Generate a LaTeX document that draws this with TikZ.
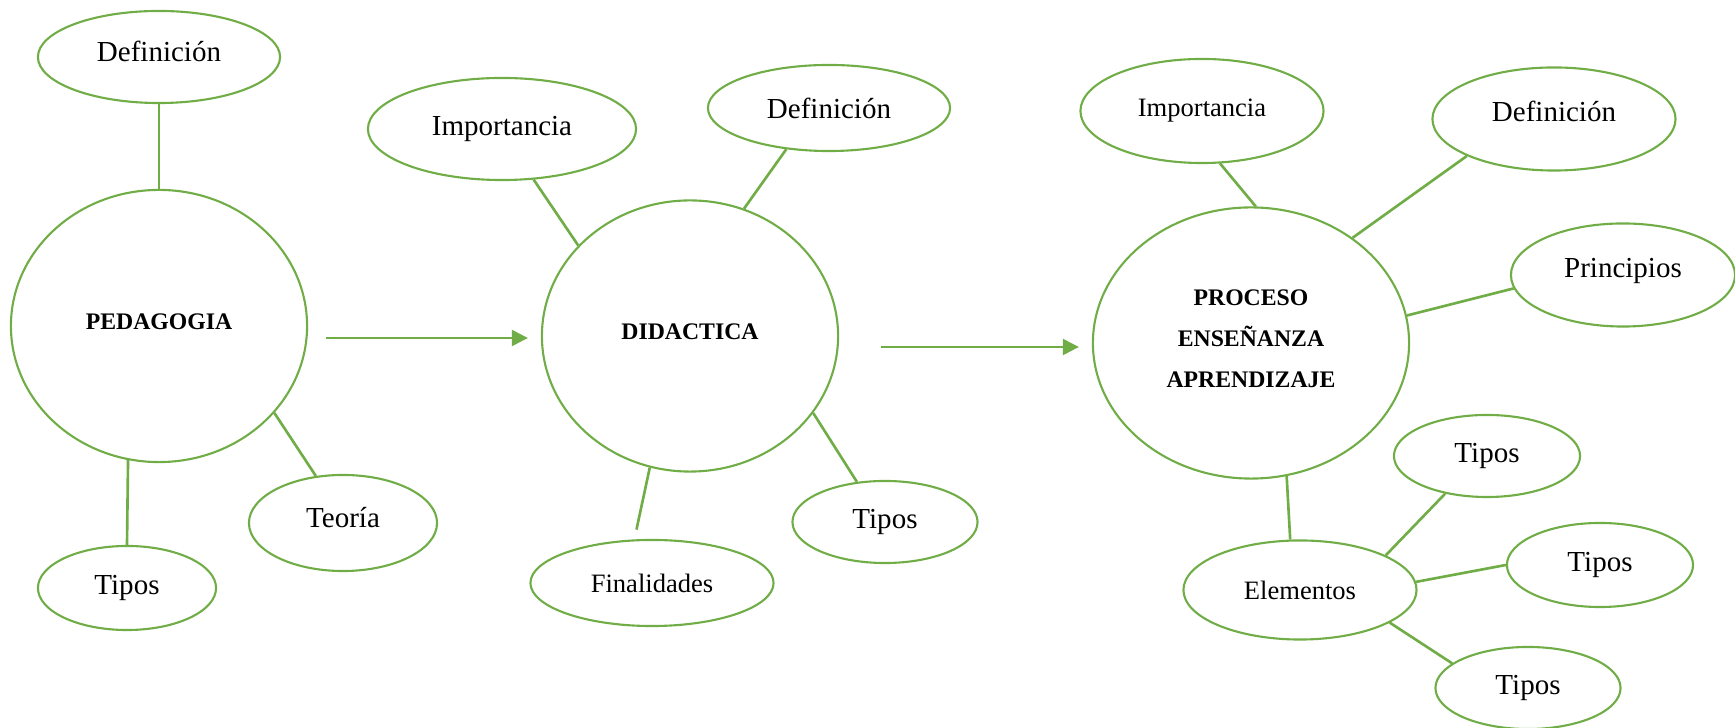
\documentclass[tikz,border=0pt]{standalone}
\usepackage{fontspec}
\setmainfont{Liberation Serif}
\usetikzlibrary{shapes.geometric, arrows.meta}

\definecolor{verde}{RGB}{112,173,71}

\tikzset{
  idea/.style={ellipse, draw=verde, line width=0.6pt, inner sep=0pt,
               font=\fontsize{8.25}{9.9}\selectfont},
  small/.style={font=\fontsize{7.55}{9}\selectfont},
  lift/.style={text depth=#1},
  hub/.style={idea, align=center, text depth=2.5pt,
              font=\fontsize{6.75}{11.7}\selectfont\bfseries},
  link/.style={draw=verde, line width=0.75pt},
  flow/.style={link, line width=0.65pt, -{Triangle[length=0.16cm, width=0.16cm]}}
}

\begin{document}
\begin{tikzpicture}[x=0.01cm, y=-0.01cm]
\useasboundingbox (0,0) rectangle (1735,728);

% pedagogia
\node[hub, minimum width=2.96cm, minimum height=2.72cm] (ped) at (159,326) {PEDAGOGIA};
\node[idea, lift=3.1pt, minimum width=2.42cm, minimum height=0.92cm] (def1) at (159,57) {Definición};
\node[idea, lift=3.1pt, minimum width=1.88cm, minimum height=0.96cm] (teo) at (343,523) {Teoría};
\node[idea, minimum width=1.78cm, minimum height=0.84cm] (tip1) at (127,588) {Tipos};

\draw[link] (def1.south) -- (ped.north);
\draw[link] (ped.-103) -- (tip1.north);
\draw[link] (ped.-37) -- (teo.120);

% didactica
\node[hub, minimum width=2.96cm, minimum height=2.71cm] (did) at (690,336) {DIDACTICA};
\node[idea, minimum width=2.68cm, minimum height=1.02cm] (imp1) at (502,129) {Importancia};
\node[idea, minimum width=2.42cm, minimum height=0.86cm] (def2) at (829,108) {Definición};
\node[idea, minimum width=1.85cm, minimum height=0.82cm] (tip2) at (885,522) {Tipos};
\node[idea, small, minimum width=2.43cm, minimum height=0.86cm] (fin) at (652,583) {Finalidades};

\draw[link] (imp1.-58) -- (did.141);
\draw[link] (def2.-136) -- (did.67);
\draw[link] (did.-32) -- (tip2.125);
\draw[link, shorten >=0.1cm] (did.-107) -- (fin.112);

\draw[flow, shorten <=0.18cm, shorten >=0.13cm]
  ([yshift=-0.12cm]ped.east) -- ([yshift=-0.12cm]ped.east -| did.west);

% proceso ensenanza aprendizaje
\node[hub, minimum width=3.16cm, minimum height=2.71cm] (pea) at (1251,343)
  {PROCESO\\ENSEÑANZA\\APRENDIZAJE};
\node[idea, small, minimum width=2.43cm, minimum height=1.04cm] (imp3) at (1202,111) {Importancia};
\node[idea, lift=4.4pt, minimum width=2.43cm, minimum height=1.03cm] (def3) at (1554,119) {Definición};
\node[idea, lift=4.3pt, minimum width=2.24cm, minimum height=1.03cm] (pri) at (1623,275) {Principios};
\node[idea, small, minimum width=2.33cm, minimum height=0.99cm] (ele) at (1300,590) {Elementos};
\node[idea, minimum width=1.86cm, minimum height=0.82cm] (tip3a) at (1487,456) {Tipos};
\node[idea, minimum width=1.86cm, minimum height=0.84cm] (tip3b) at (1600,565) {Tipos};
\node[idea, minimum width=1.85cm, minimum height=0.82cm] (tip3c) at (1528,688) {Tipos};

\draw[link] (imp3.-71) -- (pea.88);
\draw[link] (def3.-157) -- (pea.46);
\draw[link] (pri.-173) -- (pea.10);
\draw[link] (pea.-75) -- (ele.101);
\draw[link] (ele.22) -- (tip3a.-138);
\draw[link] (ele.4) -- (tip3b.180);
\draw[link] (ele.-20) -- (tip3c.162);

\draw[flow, shorten <=0.42cm, shorten >=0.13cm]
  ([yshift=-0.11cm]did.east) -- ([yshift=-0.11cm]did.east -| pea.west);
\end{tikzpicture}
\end{document}
